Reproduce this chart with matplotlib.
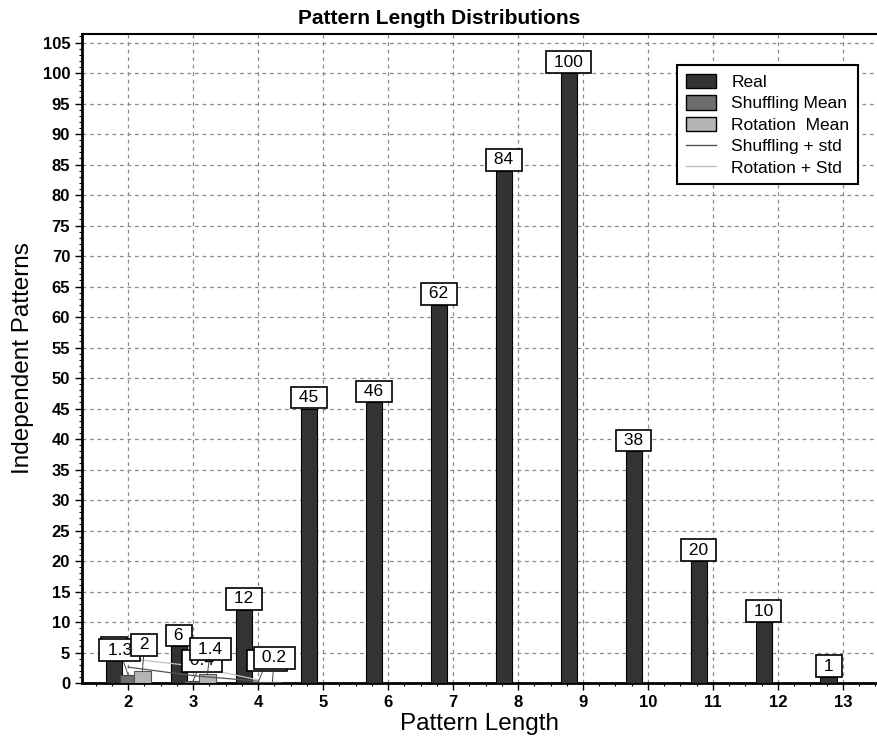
import matplotlib.pyplot as plt
from matplotlib.patches import Patch
from matplotlib.lines import Line2D
from matplotlib.ticker import MultipleLocator

plt.rcParams['font.family'] = ['Liberation Sans', 'DejaVu Sans']

# data
lengths = [2, 3, 4, 5, 6, 7, 8, 9, 10, 11, 12, 13]
real = [4, 6, 12, 45, 46, 62, 84, 100, 38, 20, 10, 1]
shuffling_mean = [1.3, 0.4, 0.1, 0, 0, 0, 0, 0, 0, 0, 0, 0]
rotation_mean = [2, 1.4, 0.2, 0, 0, 0, 0, 0, 0, 0, 0, 0]
std_lengths = [2, 3, 4]
shuffling_std = [2.6, 1.2, 0.3]
rotation_std = [4.0, 2.8, 0.5]

c_real = '#333333'
c_shuf = '#6e6e6e'
c_rot = '#b4b4b4'

fig = plt.figure(figsize=(8.78, 7.42), dpi=100)
ax = fig.add_axes([82 / 878, 1 - 683 / 742, 1 - 82 / 878, (683 - 34) / 742])

w = 0.25
off = 0.22
xr = [x - off for x in lengths]
xs = lengths
xo = [x + off for x in lengths]
ax.bar(xr, real, width=w, color=c_real, edgecolor='black', linewidth=0.8, zorder=3)
ax.bar(xs, shuffling_mean, width=w, color=c_shuf, edgecolor='#444444', linewidth=0.8, zorder=3)
ax.bar(xo, rotation_mean, width=w, color=c_rot, edgecolor='#555555', linewidth=0.8, zorder=3)

ax.plot(std_lengths, shuffling_std, color='#555555', lw=0.9, zorder=4)
ax.plot(std_lengths, rotation_std, color='#c0c0c0', lw=0.9, zorder=4)

# label boxes; small ones pushed up with a little leader line (offsets in px)
label_shift = {
    ('s', 2): (-8.5, 14), ('o', 2): (2, 15),
    ('s', 3): (9, 9), ('o', 3): (3, 14.5),
    ('s', 4): (9, 11), ('o', 4): (2, 13),
}
pad_pt = 2.4
series = [('r', xr, real, 5), ('s', xs, shuffling_mean, 6), ('o', xo, rotation_mean, 7)]
for key, xpos, vals, z in series:
    for L, x, v in zip(lengths, xpos, vals):
        if v <= 0:
            continue
        dx, dy = label_shift.get((key, L), (0, 0))
        txt = ' %g ' % v
        arrow = None
        if dy > 0:
            arrow = dict(arrowstyle='-', color='#444444', lw=0.7, shrinkA=0, shrinkB=0)
        ax.annotate(txt, xy=(x, v), xytext=(dx * 0.72, dy * 0.72 + pad_pt),
                    textcoords='offset points', ha='center', va='bottom',
                    fontsize=12.5, zorder=z, arrowprops=arrow,
                    bbox=dict(boxstyle='square,pad=0.19', fc='white', ec='black', lw=1.2))

ax.set_xlim(1.29, 13.54)
ax.set_ylim(0, 106.4)
ax.set_xticks(lengths)
ax.xaxis.set_minor_locator(MultipleLocator(0.25))
ax.set_yticks(range(0, 106, 5))
ax.yaxis.set_minor_locator(MultipleLocator(1))
ax.tick_params(which='major', direction='out', length=5, width=1, labelsize=12)
ax.tick_params(which='minor', direction='out', length=2.5, width=0.8)
for lab in ax.get_xticklabels() + ax.get_yticklabels():
    lab.set_fontweight('bold')

ax.grid(True, which='major', linestyle=(0, (3, 3)), color='#8a8a8a', lw=0.9, zorder=0)
ax.set_axisbelow(True)
ax.spines['right'].set_visible(False)
ax.spines['left'].set_linewidth(2)
ax.spines['bottom'].set_linewidth(2)
ax.spines['top'].set_linewidth(1.5)

ax.set_xlabel('Pattern Length', fontsize=17.5, labelpad=2)
ax.set_ylabel('Independent Patterns', fontsize=17.5, labelpad=6)
fig.text(0.5, 1 - 18 / 742, 'Pattern Length Distributions', ha='center', va='center',
         fontsize=15, fontweight='bold')

handles = [
    Patch(facecolor=c_real, edgecolor='black', label='Real'),
    Patch(facecolor=c_shuf, edgecolor='black', label='Shuffling Mean'),
    Patch(facecolor=c_rot, edgecolor='black', label='Rotation  Mean'),
    Line2D([], [], color='#555555', lw=1, label='Shuffling + std'),
    Line2D([], [], color='#c0c0c0', lw=1, label='Rotation + Std'),
]
leg = ax.legend(handles=handles, loc='upper right', bbox_to_anchor=(0.975, 0.952),
                borderaxespad=0, fontsize=12.5, fancybox=False, framealpha=1,
                edgecolor='black', handlelength=1.7, handleheight=0.9,
                labelspacing=0.3, borderpad=0.5, handletextpad=0.9)
leg.get_frame().set_linewidth(1.5)
leg.set_zorder(10)

fig.savefig('out.png', dpi=100, facecolor='white')
